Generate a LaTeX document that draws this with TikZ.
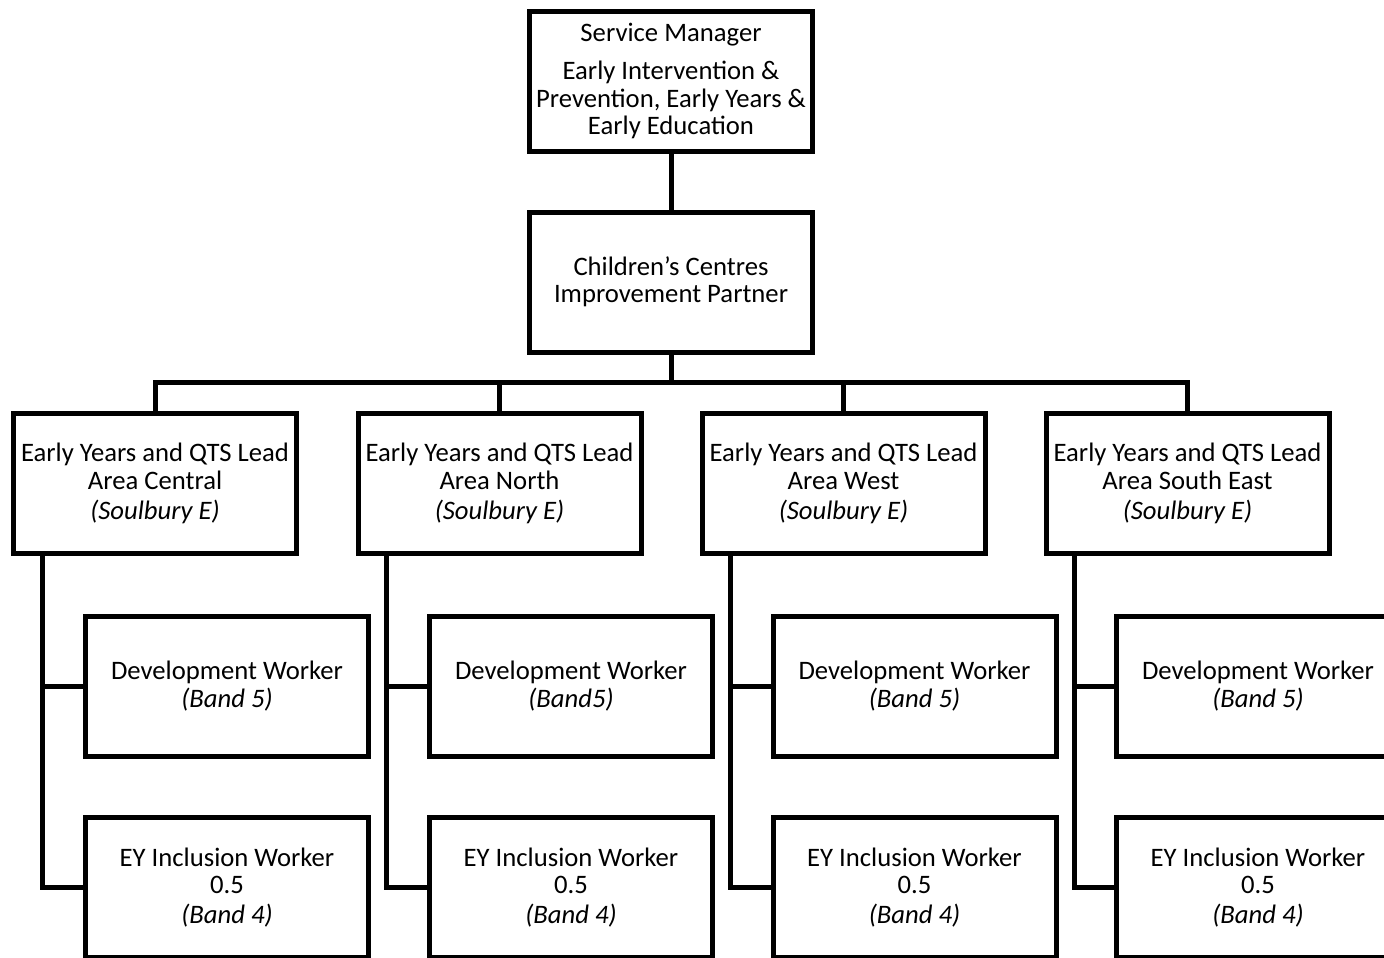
\documentclass[tikz,border=0pt]{standalone}
\usepackage{fontspec}
\setmainfont{Carlito}
\begin{document}
\begin{tikzpicture}[x=0.75pt,y=-0.75pt,
  box/.style={draw,line width=3.75pt,minimum width=212.25pt,minimum height=105pt,
    align=center,inner sep=0pt,font=\fontsize{20}{20.5}\selectfont},
  link/.style={line width=3.75pt}]
\useasboundingbox (0,0) rectangle (1384,957);
\clip (0,0) rectangle (1384,957);
\node[box] (sm) at (671,81) {Service Manager\\[8pt]Early Intervention \&\\Prevention, Early Years \&\\Early Education};
\node[box] (cc) at (671,282) {Children’s Centres\\Improvement Partner};
\node[box] (l1) at (155,483.5) {Early Years and QTS Lead\\Area Central\\[2pt]\textit{(Soulbury E)}};
\node[box] (l2) at (499.5,483.5) {Early Years and QTS Lead\\Area North\\[2pt]\textit{(Soulbury E)}};
\node[box] (l3) at (843.5,483.5) {Early Years and QTS Lead\\Area West\\[2pt]\textit{(Soulbury E)}};
\node[box] (l4) at (1187.5,483.5) {Early Years and QTS Lead\\Area South East\\[2pt]\textit{(Soulbury E)}};
\node[box] (d1) at (227,686) {Development Worker\\\textit{(Band 5)}};
\node[box] (d2) at (571,686) {Development Worker\\\textit{(Band5)}};
\node[box] (d3) at (914.5,686) {Development Worker\\\textit{(Band 5)}};
\node[box] (d4) at (1258,686) {Development Worker\\\textit{(Band 5)}};
\node[box] (i1) at (227,887.5) {EY Inclusion Worker\\0.5\\[2pt]\textit{(Band 4)}};
\node[box] (i2) at (571,887.5) {EY Inclusion Worker\\0.5\\[2pt]\textit{(Band 4)}};
\node[box] (i3) at (914.5,887.5) {EY Inclusion Worker\\0.5\\[2pt]\textit{(Band 4)}};
\node[box] (i4) at (1258,887.5) {EY Inclusion Worker\\0.5\\[2pt]\textit{(Band 4)}};
\coordinate (bus) at (671,382);
\coordinate (t1) at (42,0);
\coordinate (t2) at (386,0);
\coordinate (t3) at (730,0);
\coordinate (t4) at (1074,0);
\draw[link] (sm.south) -- (cc.north);
\draw[link] (cc.south) -- (bus);
\draw[link] (l1.north) -- (l1.north |- bus) -- (l4.north |- bus) -- (l4.north);
\draw[link] (l2.north) -- (l2.north |- bus);
\draw[link] (l3.north) -- (l3.north |- bus);
\foreach \k in {1,2,3,4}{
  \draw[link] (t\k |- l\k.south) |- (i\k.west);
  \draw[link] (t\k |- d\k.west) -- (d\k.west);
}
\end{tikzpicture}
\end{document}
